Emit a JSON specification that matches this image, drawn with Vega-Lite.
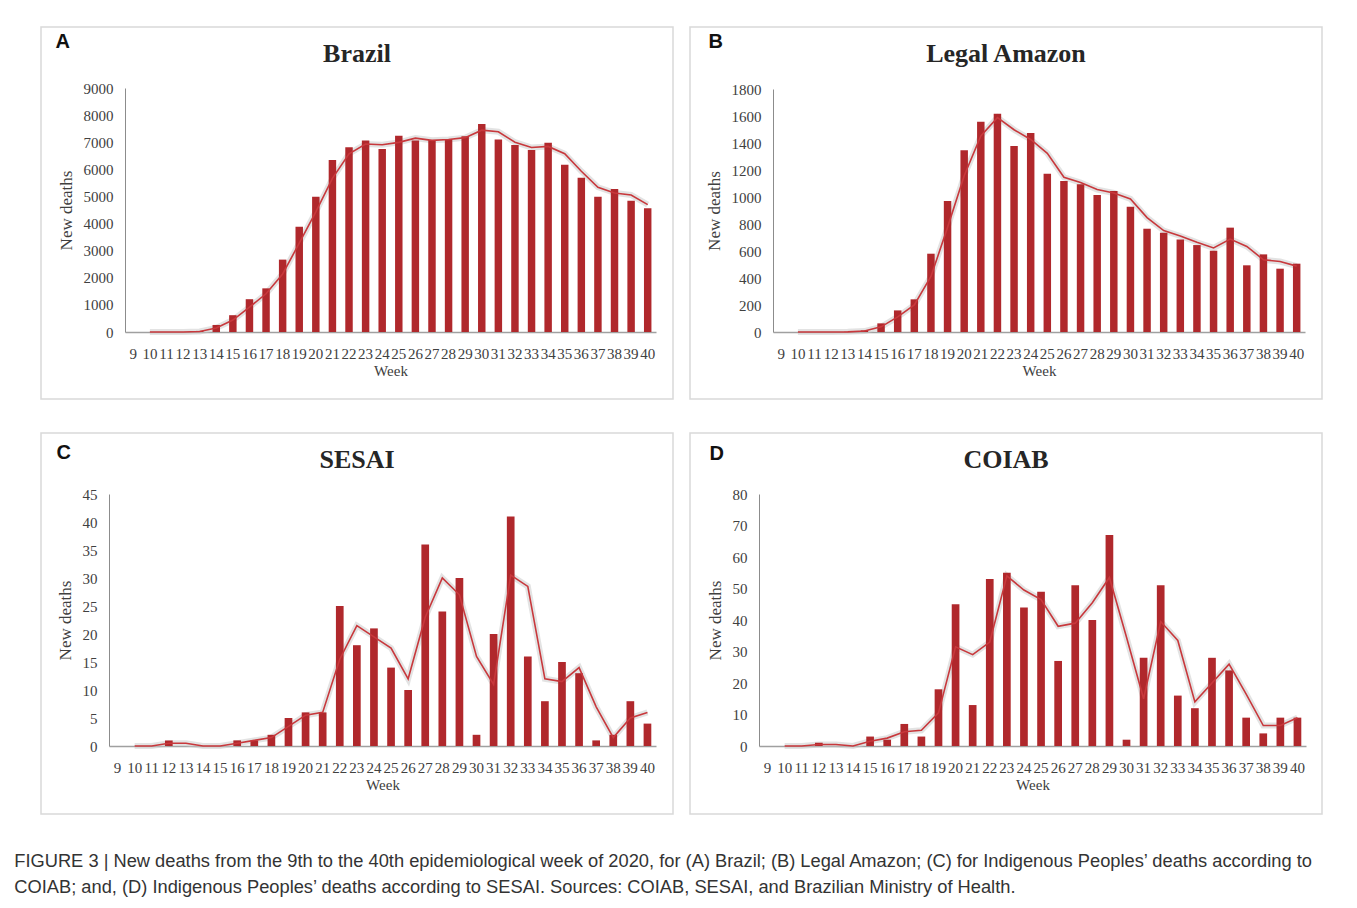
{
  "$schema": "https://vega.github.io/schema/vega-lite/v6.json",
  "padding": {"left": 14, "top": 26, "right": 0, "bottom": 0},
  "background": "white",
  "title": {
    "text": ["FIGURE 3 | New deaths from the 9th to the 40th epidemiological week of 2020, for (A) Brazil; (B) Legal Amazon; (C) for Indigenous Peoples’ deaths according to", "COIAB; and, (D) Indigenous Peoples’ deaths according to SESAI. Sources: COIAB, SESAI, and Brazilian Ministry of Health."],
    "orient": "bottom", "anchor": "start", "frame": "bounds",
    "font": "Liberation Sans", "fontSize": 18.3, "fontWeight": "normal", "color": "#333333",
    "lineHeight": 26, "offset": 38, "dx": -26
  },
  "datasets": {
    "brazil": [
      {"week": 9, "deaths": 0, "trend": null}, {"week": 10, "deaths": 0, "trend": 0}, {"week": 11, "deaths": 0, "trend": 0},
      {"week": 12, "deaths": 1, "trend": 0.5}, {"week": 13, "deaths": 40, "trend": 20}, {"week": 14, "deaths": 260, "trend": 150},
      {"week": 15, "deaths": 620, "trend": 440}, {"week": 16, "deaths": 1210, "trend": 915}, {"week": 17, "deaths": 1610, "trend": 1410},
      {"week": 18, "deaths": 2670, "trend": 2140}, {"week": 19, "deaths": 3880, "trend": 3275}, {"week": 20, "deaths": 4990, "trend": 4435},
      {"week": 21, "deaths": 6340, "trend": 5665}, {"week": 22, "deaths": 6810, "trend": 6575}, {"week": 23, "deaths": 7060, "trend": 6935},
      {"week": 24, "deaths": 6750, "trend": 6905}, {"week": 25, "deaths": 7240, "trend": 6995}, {"week": 26, "deaths": 7060, "trend": 7150},
      {"week": 27, "deaths": 7080, "trend": 7070}, {"week": 28, "deaths": 7120, "trend": 7100}, {"week": 29, "deaths": 7220, "trend": 7170},
      {"week": 30, "deaths": 7670, "trend": 7445}, {"week": 31, "deaths": 7100, "trend": 7385}, {"week": 32, "deaths": 6900, "trend": 7000},
      {"week": 33, "deaths": 6710, "trend": 6805}, {"week": 34, "deaths": 6980, "trend": 6845}, {"week": 35, "deaths": 6170, "trend": 6575},
      {"week": 36, "deaths": 5690, "trend": 5930}, {"week": 37, "deaths": 4990, "trend": 5340}, {"week": 38, "deaths": 5270, "trend": 5130},
      {"week": 39, "deaths": 4840, "trend": 5055}, {"week": 40, "deaths": 4560, "trend": 4700}
    ],
    "amazon": [
      {"week": 9, "deaths": 0, "trend": null}, {"week": 10, "deaths": 0, "trend": 0}, {"week": 11, "deaths": 0, "trend": 0},
      {"week": 12, "deaths": 0, "trend": 0}, {"week": 13, "deaths": 2, "trend": 1}, {"week": 14, "deaths": 12, "trend": 7},
      {"week": 15, "deaths": 64, "trend": 38}, {"week": 16, "deaths": 160, "trend": 112}, {"week": 17, "deaths": 242, "trend": 201},
      {"week": 18, "deaths": 580, "trend": 411}, {"week": 19, "deaths": 970, "trend": 775}, {"week": 20, "deaths": 1346, "trend": 1158},
      {"week": 21, "deaths": 1558, "trend": 1452}, {"week": 22, "deaths": 1617, "trend": 1588}, {"week": 23, "deaths": 1378, "trend": 1498},
      {"week": 24, "deaths": 1474, "trend": 1426}, {"week": 25, "deaths": 1173, "trend": 1324}, {"week": 26, "deaths": 1119, "trend": 1146},
      {"week": 27, "deaths": 1094, "trend": 1107}, {"week": 28, "deaths": 1015, "trend": 1055}, {"week": 29, "deaths": 1044, "trend": 1030},
      {"week": 30, "deaths": 928, "trend": 986}, {"week": 31, "deaths": 765, "trend": 847}, {"week": 32, "deaths": 736, "trend": 751},
      {"week": 33, "deaths": 686, "trend": 711}, {"week": 34, "deaths": 644, "trend": 665}, {"week": 35, "deaths": 602, "trend": 623},
      {"week": 36, "deaths": 773, "trend": 688}, {"week": 37, "deaths": 494, "trend": 634}, {"week": 38, "deaths": 575, "trend": 535},
      {"week": 39, "deaths": 469, "trend": 522}, {"week": 40, "deaths": 506, "trend": 488}
    ],
    "sesai": [
      {"week": 9, "deaths": 0, "trend": null}, {"week": 10, "deaths": 0, "trend": 0}, {"week": 11, "deaths": 0, "trend": 0},
      {"week": 12, "deaths": 1, "trend": 0.5}, {"week": 13, "deaths": 0, "trend": 0.5}, {"week": 14, "deaths": 0, "trend": 0},
      {"week": 15, "deaths": 0, "trend": 0}, {"week": 16, "deaths": 1, "trend": 0.5}, {"week": 17, "deaths": 1, "trend": 1},
      {"week": 18, "deaths": 2, "trend": 1.5}, {"week": 19, "deaths": 5, "trend": 3.5}, {"week": 20, "deaths": 6, "trend": 5.5},
      {"week": 21, "deaths": 6, "trend": 6}, {"week": 22, "deaths": 25, "trend": 15.5}, {"week": 23, "deaths": 18, "trend": 21.5},
      {"week": 24, "deaths": 21, "trend": 19.5}, {"week": 25, "deaths": 14, "trend": 17.5}, {"week": 26, "deaths": 10, "trend": 12},
      {"week": 27, "deaths": 36, "trend": 23}, {"week": 28, "deaths": 24, "trend": 30}, {"week": 29, "deaths": 30, "trend": 27},
      {"week": 30, "deaths": 2, "trend": 16}, {"week": 31, "deaths": 20, "trend": 11}, {"week": 32, "deaths": 41, "trend": 30.5},
      {"week": 33, "deaths": 16, "trend": 28.5}, {"week": 34, "deaths": 8, "trend": 12}, {"week": 35, "deaths": 15, "trend": 11.5},
      {"week": 36, "deaths": 13, "trend": 14}, {"week": 37, "deaths": 1, "trend": 7}, {"week": 38, "deaths": 2, "trend": 1.5},
      {"week": 39, "deaths": 8, "trend": 5}, {"week": 40, "deaths": 4, "trend": 6}
    ],
    "coiab": [
      {"week": 9, "deaths": 0, "trend": null}, {"week": 10, "deaths": 0, "trend": 0}, {"week": 11, "deaths": 0, "trend": 0},
      {"week": 12, "deaths": 1, "trend": 0.5}, {"week": 13, "deaths": 0, "trend": 0.5}, {"week": 14, "deaths": 0, "trend": 0},
      {"week": 15, "deaths": 3, "trend": 1.5}, {"week": 16, "deaths": 2, "trend": 2.5}, {"week": 17, "deaths": 7, "trend": 4.5},
      {"week": 18, "deaths": 3, "trend": 5}, {"week": 19, "deaths": 18, "trend": 10.5}, {"week": 20, "deaths": 45, "trend": 31.5},
      {"week": 21, "deaths": 13, "trend": 29}, {"week": 22, "deaths": 53, "trend": 33}, {"week": 23, "deaths": 55, "trend": 54},
      {"week": 24, "deaths": 44, "trend": 49.5}, {"week": 25, "deaths": 49, "trend": 46.5}, {"week": 26, "deaths": 27, "trend": 38},
      {"week": 27, "deaths": 51, "trend": 39}, {"week": 28, "deaths": 40, "trend": 45.5}, {"week": 29, "deaths": 67, "trend": 53.5},
      {"week": 30, "deaths": 2, "trend": 34.5}, {"week": 31, "deaths": 28, "trend": 15}, {"week": 32, "deaths": 51, "trend": 39.5},
      {"week": 33, "deaths": 16, "trend": 33.5}, {"week": 34, "deaths": 12, "trend": 14}, {"week": 35, "deaths": 28, "trend": 20},
      {"week": 36, "deaths": 24, "trend": 26}, {"week": 37, "deaths": 9, "trend": 16.5}, {"week": 38, "deaths": 4, "trend": 6.5},
      {"week": 39, "deaths": 9, "trend": 6.5}, {"week": 40, "deaths": 9, "trend": 9}
    ]
  },
  "vconcat": [
    {
      "hconcat": [
        {
          "width": 632, "height": 372,
          "data": {"name": "brazil"},
          "title": {"text": "Brazil", "offset": -40},
          "layer": [
            {
              "mark": {"type": "line", "color": "#c8c8c8", "strokeWidth": 6, "opacity": 0.5},
              "encoding": {
                "x": {"field": "week", "type": "ordinal", "scale": {"range": [84, 615], "paddingInner": 0.55, "paddingOuter": 0.275}, "axis": null},
                "y": {"field": "trend", "type": "quantitative", "scale": {"domain": [0, 9000], "range": [305, 61], "nice": false}, "axis": null}
              }
            },
            {
              "mark": {"type": "bar", "color": "#b0282c"},
              "encoding": {
                "x": {"field": "week", "type": "ordinal", "scale": {"range": [84, 615], "paddingInner": 0.55, "paddingOuter": 0.275}, "axis": {"offset": -67, "title": "Week"}},
                "y": {"field": "deaths", "type": "quantitative", "scale": {"domain": [0, 9000], "range": [305, 61], "nice": false}, "axis": {"offset": -84, "title": "New deaths", "format": "d", "values": [0, 1000, 2000, 3000, 4000, 5000, 6000, 7000, 8000, 9000]}}
              }
            },
            {
              "mark": {"type": "line", "color": "#c8383c", "strokeWidth": 1.6},
              "encoding": {
                "x": {"field": "week", "type": "ordinal", "scale": {"range": [84, 615], "paddingInner": 0.55, "paddingOuter": 0.275}, "axis": {"orient": "top", "labels": false, "ticks": false, "domain": false, "title": "A", "titleX": 14, "titleY": 14, "titleAlign": "left", "titleBaseline": "middle", "titleFont": "Liberation Sans", "titleFontSize": 20, "titleFontWeight": "bold", "titleColor": "#111111"}},
                "y": {"field": "trend", "type": "quantitative", "scale": {"domain": [0, 9000], "range": [305, 61], "nice": false}, "axis": null}
              }
            }
          ],
          "resolve": {"axis": {"x": "independent", "y": "independent"}}
        },
        {
          "width": 632, "height": 372,
          "data": {"name": "amazon"},
          "title": {"text": "Legal Amazon", "offset": -40},
          "layer": [
            {
              "mark": {"type": "line", "color": "#c8c8c8", "strokeWidth": 6, "opacity": 0.5},
              "encoding": {
                "x": {"field": "week", "type": "ordinal", "scale": {"range": [83, 615], "paddingInner": 0.55, "paddingOuter": 0.275}, "axis": null},
                "y": {"field": "trend", "type": "quantitative", "scale": {"domain": [0, 1800], "range": [305, 62], "nice": false}, "axis": null}
              }
            },
            {
              "mark": {"type": "bar", "color": "#b0282c"},
              "encoding": {
                "x": {"field": "week", "type": "ordinal", "scale": {"range": [83, 615], "paddingInner": 0.55, "paddingOuter": 0.275}, "axis": {"offset": -67, "title": "Week"}},
                "y": {"field": "deaths", "type": "quantitative", "scale": {"domain": [0, 1800], "range": [305, 62], "nice": false}, "axis": {"offset": -83, "title": "New deaths", "format": "d", "values": [0, 200, 400, 600, 800, 1000, 1200, 1400, 1600, 1800]}}
              }
            },
            {
              "mark": {"type": "line", "color": "#c8383c", "strokeWidth": 1.6},
              "encoding": {
                "x": {"field": "week", "type": "ordinal", "scale": {"range": [83, 615], "paddingInner": 0.55, "paddingOuter": 0.275}, "axis": {"orient": "top", "labels": false, "ticks": false, "domain": false, "title": "B", "titleX": 18, "titleY": 14, "titleAlign": "left", "titleBaseline": "middle", "titleFont": "Liberation Sans", "titleFontSize": 20, "titleFontWeight": "bold", "titleColor": "#111111"}},
                "y": {"field": "trend", "type": "quantitative", "scale": {"domain": [0, 1800], "range": [305, 62], "nice": false}, "axis": null}
              }
            }
          ],
          "resolve": {"axis": {"x": "independent", "y": "independent"}}
        }
      ],
      "spacing": 15
    },
    {
      "hconcat": [
        {
          "width": 632, "height": 381,
          "data": {"name": "sesai"},
          "title": {"text": "SESAI", "offset": -40},
          "layer": [
            {
              "mark": {"type": "line", "color": "#c8c8c8", "strokeWidth": 6, "opacity": 0.5},
              "encoding": {
                "x": {"field": "week", "type": "ordinal", "scale": {"range": [68, 615], "paddingInner": 0.55, "paddingOuter": 0.275}, "axis": null},
                "y": {"field": "trend", "type": "quantitative", "scale": {"domain": [0, 45], "range": [313, 61], "nice": false}, "axis": null}
              }
            },
            {
              "mark": {"type": "bar", "color": "#b0282c"},
              "encoding": {
                "x": {"field": "week", "type": "ordinal", "scale": {"range": [68, 615], "paddingInner": 0.55, "paddingOuter": 0.275}, "axis": {"offset": -68, "title": "Week"}},
                "y": {"field": "deaths", "type": "quantitative", "scale": {"domain": [0, 45], "range": [313, 61], "nice": false}, "axis": {"offset": -68, "title": "New deaths", "format": "d", "values": [0, 5, 10, 15, 20, 25, 30, 35, 40, 45]}}
              }
            },
            {
              "mark": {"type": "line", "color": "#c8383c", "strokeWidth": 1.6},
              "encoding": {
                "x": {"field": "week", "type": "ordinal", "scale": {"range": [68, 615], "paddingInner": 0.55, "paddingOuter": 0.275}, "axis": {"orient": "top", "labels": false, "ticks": false, "domain": false, "title": "C", "titleX": 15, "titleY": 19, "titleAlign": "left", "titleBaseline": "middle", "titleFont": "Liberation Sans", "titleFontSize": 20, "titleFontWeight": "bold", "titleColor": "#111111"}},
                "y": {"field": "trend", "type": "quantitative", "scale": {"domain": [0, 45], "range": [313, 61], "nice": false}, "axis": null}
              }
            }
          ],
          "resolve": {"axis": {"x": "independent", "y": "independent"}}
        },
        {
          "width": 632, "height": 381,
          "data": {"name": "coiab"},
          "title": {"text": "COIAB", "offset": -40},
          "layer": [
            {
              "mark": {"type": "line", "color": "#c8c8c8", "strokeWidth": 6, "opacity": 0.5},
              "encoding": {
                "x": {"field": "week", "type": "ordinal", "scale": {"range": [69, 616], "paddingInner": 0.55, "paddingOuter": 0.275}, "axis": null},
                "y": {"field": "trend", "type": "quantitative", "scale": {"domain": [0, 80], "range": [313, 61], "nice": false}, "axis": null}
              }
            },
            {
              "mark": {"type": "bar", "color": "#b0282c"},
              "encoding": {
                "x": {"field": "week", "type": "ordinal", "scale": {"range": [69, 616], "paddingInner": 0.55, "paddingOuter": 0.275}, "axis": {"offset": -68, "title": "Week"}},
                "y": {"field": "deaths", "type": "quantitative", "scale": {"domain": [0, 80], "range": [313, 61], "nice": false}, "axis": {"offset": -69, "title": "New deaths", "format": "d", "values": [0, 10, 20, 30, 40, 50, 60, 70, 80]}}
              }
            },
            {
              "mark": {"type": "line", "color": "#c8383c", "strokeWidth": 1.6},
              "encoding": {
                "x": {"field": "week", "type": "ordinal", "scale": {"range": [69, 616], "paddingInner": 0.55, "paddingOuter": 0.275}, "axis": {"orient": "top", "labels": false, "ticks": false, "domain": false, "title": "D", "titleX": 19, "titleY": 20, "titleAlign": "left", "titleBaseline": "middle", "titleFont": "Liberation Sans", "titleFontSize": 20, "titleFontWeight": "bold", "titleColor": "#111111"}},
                "y": {"field": "trend", "type": "quantitative", "scale": {"domain": [0, 80], "range": [313, 61], "nice": false}, "axis": null}
              }
            }
          ],
          "resolve": {"axis": {"x": "independent", "y": "independent"}}
        }
      ],
      "spacing": 15
    }
  ],
  "spacing": 32,
  "config": {
    "concat": {"spacing": 15},
    "view": {"stroke": "#d9d9d9", "strokeWidth": 1.5, "fill": "white"},
    "title": {"font": "Liberation Serif", "fontSize": 26, "fontWeight": "bold", "color": "#262626", "anchor": "middle", "frame": "group"},
    "axis": {
      "labelFont": "Liberation Serif", "titleFont": "Liberation Serif",
      "labelColor": "#404040", "titleColor": "#404040",
      "labelFontSize": 15, "titleFontSize": 15, "titleFontWeight": "normal",
      "grid": false, "ticks": false, "tickSize": 0, "domainColor": "#8c8c8c"
    },
    "axisX": {"labelAngle": 0, "labelOverlap": false, "labelPadding": 14, "titlePadding": 2, "domainWidth": 1.5, "domainColor": "#a0a0a0"},
    "axisY": {"labelPadding": 12, "titlePadding": 8, "titleFontSize": 17, "domainWidth": 1}
  }
}
